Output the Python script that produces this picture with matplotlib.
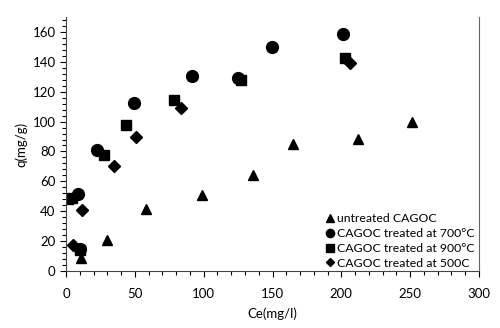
import numpy as np
import matplotlib.pyplot as plt
from matplotlib.ticker import MultipleLocator

plt.rcParams['font.family'] = ['Lato', 'DejaVu Sans']

# untreated CAGOC
x_untreated = [10.9, 29.6, 58, 98.8, 136, 165, 212, 251]
q_untreated = [8.5, 20.6, 41.6, 51, 64.4, 85, 88.4, 99.5]

# treated at 700C
x_700 = [8.8, 10.5, 22.7, 49.6, 91.3, 124.9, 149.4, 201.2]
q_700 = [51.5, 14.5, 81.2, 112.5, 130.7, 129.5, 149.9, 158.8]

# treated at 900C
x_900 = [1.5, 4.5, 10.5, 27.8, 43.3, 78.2, 126.8, 203]
q_900 = [48, 48.5, 14.0, 77.4, 98, 114.3, 128, 142.7]

# treated at 500C
x_500 = [5.3, 11.4, 34.6, 50.8, 83.5, 206.2]
q_500 = [17.4, 41, 70.3, 90, 109, 139.4]

labels = ['untreated CAGOC', 'CAGOC treated at 700°C',
          'CAGOC treated at 900°C', 'CAGOC treated at 500C']

fig = plt.figure(figsize=(5, 3.28), dpi=100)
ax = fig.add_axes([0.132, 0.174, 0.826, 0.774])

ax.plot(x_untreated, q_untreated, '^', color='k', ms=7.5, ls='none', label=labels[0])
ax.plot(x_700, q_700, 'o', color='k', ms=8.5, ls='none', label=labels[1])
ax.plot(x_900, q_900, 's', color='k', ms=7.5, ls='none', label=labels[2])
ax.plot(x_500, q_500, 'D', color='k', ms=6.5, ls='none', label=labels[3])

ax.set_xlim(0, 300)
ax.set_ylim(0, 170)
ax.xaxis.set_major_locator(MultipleLocator(50))
ax.xaxis.set_minor_locator(MultipleLocator(10))
ax.yaxis.set_major_locator(MultipleLocator(20))
ax.yaxis.set_minor_locator(MultipleLocator(4))
ax.set_yticks(np.arange(0, 161, 20))
ax.tick_params(which='both', direction='out', colors='k', labelsize=9.5)
ax.tick_params(which='major', length=4, width=0.8)
ax.tick_params(which='minor', length=3, width=0.8)
ax.tick_params(axis='x', pad=8)

ax.spines['top'].set_visible(False)
ax.spines['right'].set_color('#666666')
ax.spines['left'].set_color('#444444')
ax.spines['bottom'].set_color('#444444')

ax.set_xlabel('Ce(mg/l)', fontsize=9.5, labelpad=6)
ax.set_ylabel('q(mg/g)', fontsize=9.5, labelpad=4)

ax.legend(loc='lower right', frameon=False, fontsize=8.8, markerscale=0.7,
          handlelength=0.6, handletextpad=0.3, labelspacing=0.32,
          borderaxespad=0.3, bbox_to_anchor=(1.01, -0.025))

# faint duplicate of the axis title, clipped at the bottom edge as in the source
fig.text(0.545, -0.028, 'Ce(mg/l)', ha='center', va='center', fontsize=9.5)

fig.savefig('out.png', dpi=100)
